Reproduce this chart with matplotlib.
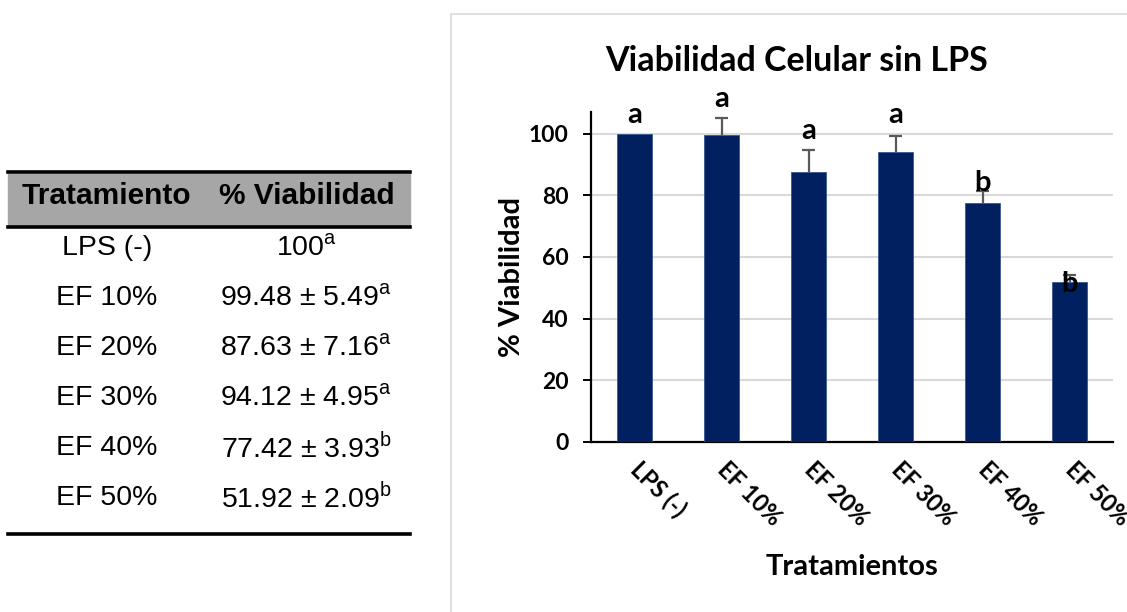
import numpy as np
import matplotlib.pyplot as plt
from matplotlib.lines import Line2D
from matplotlib.patches import Rectangle

# Datos
tratamientos = ["LPS (-)", "EF 10%", "EF 20%", "EF 30%", "EF 40%", "EF 50%"]
viabilidad = [100, 99.48, 87.63, 94.12, 77.42, 51.92]
desviacion = [0, 5.49, 7.16, 4.95, 3.93, 2.09]
letras = ["a", "a", "a", "a", "b", "b"]
textos_tabla = ["100", "99.48 ± 5.49", "87.63 ± 7.16", "94.12 ± 4.95",
                "77.42 ± 3.93", "51.92 ± 2.09"]

plt.rcParams["mathtext.fontset"] = "custom"
plt.rcParams["mathtext.rm"] = "Liberation Sans"

fig = plt.figure(figsize=(11.27, 6.12), dpi=100)
W, H = 1127, 612

def fx(px):
    return px / W

def fy(py):
    return 1 - py / H

# ---- Tabla de la izquierda ----
fig.patches.append(Rectangle((fx(8), fy(226)), fx(402), 52 / H,
                             transform=fig.transFigure, color="#a6a6a6", zorder=0))
for y in [172, 227, 534]:
    fig.add_artist(Line2D([fx(8), fx(410)], [fy(y), fy(y)], color="black", lw=2.6))

fuente_tabla = "Liberation Sans"
fig.text(fx(106), fy(196), "Tratamiento", ha="center", va="center",
         fontsize=21.5, fontweight="bold", family=fuente_tabla)
fig.text(fx(307), fy(196), "% Viabilidad", ha="center", va="center",
         fontsize=21.5, fontweight="bold", family=fuente_tabla)
for i, (t, v, l) in enumerate(zip(tratamientos, textos_tabla, letras)):
    y = 248 + i * 50
    fig.text(fx(107), fy(y), t, ha="center", va="center",
             fontsize=20.5, family=fuente_tabla)
    fig.text(fx(306), fy(y), v + r"$^{\mathrm{" + l + "}}$", ha="center", va="center",
             fontsize=20.5, family=fuente_tabla)

# ---- Marco del gráfico ----
fig.patches.append(Rectangle((fx(451), -0.01), 1, fy(14) + 0.01,
                             transform=fig.transFigure, fill=False,
                             edgecolor="#d9d9d9", lw=1.2, zorder=0))

# ---- Gráfico de barras ----
fuente = "Lato"
ax = fig.add_axes([fx(591), fy(442), fx(1113 - 591), 330 / H])
x = np.arange(len(tratamientos))
ax.bar(x, viabilidad, width=0.4, color="#002060", edgecolor="#3a5592",
       linewidth=0.6, zorder=3)

# barras de error solo hacia arriba
for xi, v, d in zip(x, viabilidad, desviacion):
    if d > 0:
        ax.vlines(xi, v, v + d, color="#595959", lw=1.6, zorder=4)
        ax.hlines(v + d, xi - 0.07, xi + 0.07, color="#595959", lw=1.6, zorder=4)

desplazamiento = [3.5, 3.5, 3.3, 4.5, 0, -5.5]
for xi, v, d, l, off in zip(x, viabilidad, desviacion, letras, desplazamiento):
    ax.text(xi, v + d + off, l, ha="center", va="baseline", fontsize=21,
            fontweight="bold", family=fuente, zorder=5)

ax.set_xlim(-0.5, len(x) - 0.5)
ax.set_ylim(0, 107)
ax.set_yticks(range(0, 101, 20))
ax.yaxis.grid(True, color="#d9d9d9", lw=1.5, zorder=0)
ax.set_axisbelow(True)
for s in ["top", "right"]:
    ax.spines[s].set_visible(False)
ax.spines["left"].set_linewidth(1.6)
ax.spines["bottom"].set_linewidth(1.6)
ax.tick_params(axis="y", length=6, width=1.4, labelsize=16.5, pad=10)
ax.tick_params(axis="x", length=0, pad=17)
ax.set_xticks(x)
ax.set_xticklabels(tratamientos, rotation=-45, ha="left", va="center",
                   rotation_mode="anchor", fontsize=17, fontweight="bold",
                   family=fuente)
for lab in ax.get_yticklabels():
    lab.set_fontweight("bold")
    lab.set_family(fuente)

fig.text(fx(797), fy(71), "Viabilidad Celular sin LPS", ha="center", va="baseline",
         fontsize=24.5, fontweight="bold", family=fuente)
ax.set_ylabel("% Viabilidad", fontsize=21, fontweight="bold", family=fuente,
              labelpad=3)
ax.set_xlabel("Tratamientos", fontsize=21, fontweight="bold", family=fuente,
              labelpad=17)

fig.savefig("out.png", dpi=100)
